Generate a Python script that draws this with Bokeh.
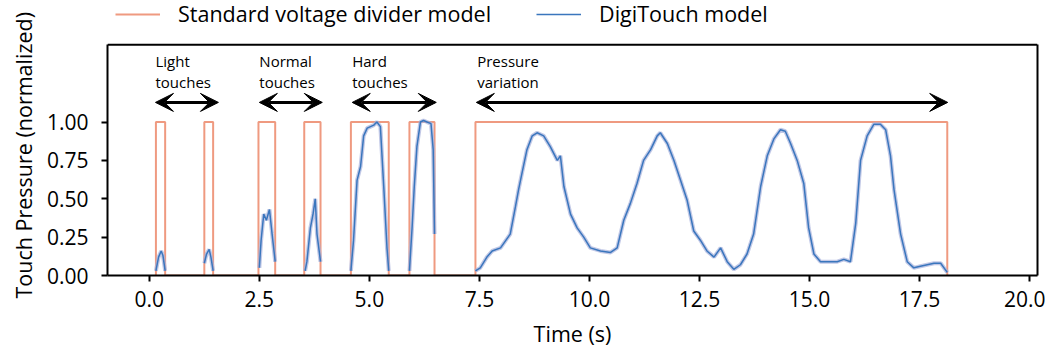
import numpy as np
from bokeh.plotting import figure
from bokeh.models import (Range1d, FixedTicker, NumeralTickFormatter, Legend, LegendItem,
                          Label, Arrow, VeeHead, LinearAxis, Span, Title)
from bokeh.embed import file_html
from bokeh.resources import INLINE

# ---------------- data ----------------
# Standard voltage divider model: on/off pulses (start, end) in seconds, level 1.0
pulse_start = [0.15, 1.25, 2.48, 3.52, 4.58, 5.91, 7.41]
pulse_end = [0.36, 1.45, 2.86, 3.89, 5.44, 6.48, 18.13]

# DigiTouch model segments (time s, normalized pressure)
light1_t = [0.15, 0.21, 0.27, 0.31, 0.36]
light1_v = [0.03, 0.12, 0.16, 0.13, 0.03]
light2_t = [1.25, 1.30, 1.36, 1.40, 1.45]
light2_v = [0.08, 0.14, 0.17, 0.12, 0.03]
normal1_t = [2.50, 2.54, 2.60, 2.66, 2.73, 2.79, 2.86]
normal1_v = [0.05, 0.23, 0.40, 0.36, 0.43, 0.27, 0.09]
normal2_t = [3.54, 3.58, 3.66, 3.72, 3.77, 3.81, 3.89]
normal2_v = [0.03, 0.09, 0.31, 0.40, 0.50, 0.27, 0.09]
hard1_t = [4.58, 4.64, 4.72, 4.80, 4.87, 4.95, 5.10, 5.17, 5.25, 5.33, 5.40, 5.44]
hard1_v = [0.03, 0.23, 0.62, 0.71, 0.91, 0.96, 0.98, 1.00, 0.97, 0.56, 0.18, 0.03]
hard2_t = [5.91, 5.97, 6.02, 6.08, 6.16, 6.23, 6.31, 6.40, 6.45, 6.48]
hard2_v = [0.03, 0.31, 0.58, 0.84, 1.00, 1.01, 1.00, 0.99, 0.82, 0.27]
press_t = [7.41, 7.52, 7.67, 7.79, 7.98, 8.20, 8.32, 8.39, 8.47, 8.58, 8.70, 8.81, 8.96,
           9.11, 9.27, 9.34, 9.42, 9.57, 9.72, 9.87, 10.02, 10.25, 10.48, 10.63, 10.78,
           10.93, 11.08, 11.23, 11.39, 11.54, 11.61, 11.77, 11.92, 12.07, 12.22, 12.37,
           12.52, 12.67, 12.83, 12.98, 13.13, 13.28, 13.43, 13.58, 13.73, 13.89, 14.04,
           14.19, 14.34, 14.45, 14.57, 14.72, 14.87, 14.98, 15.10, 15.25, 15.48, 15.63,
           15.78, 15.93, 16.05, 16.16, 16.31, 16.46, 16.61, 16.73, 16.84, 16.92, 17.07,
           17.22, 17.37, 17.52, 17.83, 17.98, 18.13]
press_v = [0.03, 0.05, 0.12, 0.16, 0.18, 0.27, 0.45, 0.56, 0.67, 0.82, 0.91, 0.93, 0.91,
           0.84, 0.75, 0.78, 0.58, 0.40, 0.31, 0.25, 0.18, 0.16, 0.15, 0.18, 0.36,
           0.47, 0.60, 0.75, 0.82, 0.91, 0.93, 0.86, 0.75, 0.62, 0.49, 0.29,
           0.23, 0.16, 0.12, 0.18, 0.09, 0.04, 0.07, 0.14, 0.27, 0.58, 0.78,
           0.89, 0.95, 0.94, 0.86, 0.75, 0.60, 0.31, 0.14, 0.09, 0.09, 0.09,
           0.105, 0.09, 0.34, 0.75, 0.91, 0.985, 0.985, 0.95, 0.78, 0.56, 0.27,
           0.09, 0.05, 0.06, 0.08, 0.08, 0.02]

segments_t = [light1_t, light2_t, normal1_t, normal2_t, hard1_t, hard2_t, press_t]
segments_v = [light1_v, light2_v, normal1_v, normal2_v, hard1_v, hard2_v, press_v]

# Annotations: (label lines, text x, arrow x start, arrow x end)
ann_line1 = ["Light", "Normal", "Hard", "Pressure"]
ann_line2 = ["touches", "touches", "touches", "variation"]
ann_text_x = [0.14, 2.50, 4.61, 7.45]
ann_arrow_x0 = [0.14, 2.50, 4.61, 7.43]
ann_arrow_x1 = [1.57, 3.93, 6.52, 18.14]

x_ticks = [0.0, 2.5, 5.0, 7.5, 10.0, 12.5, 15.0, 17.5, 20.0]
y_ticks = [0.0, 0.25, 0.5, 0.75, 1.0]

series_names = ["Standard voltage divider model", "DigiTouch model"]
x_title = "Time (s)"
y_title = "Touch Pressure (normalized)"

# ---------------- build ----------------
FONT = "Open Sans"
ORANGE = "#ef9a80"
BLUE = "#3a76bd"
BAND = "#a7b0dc"
Y_TOP = 1.504      # top edge of the axes box
Y_VIEW = 1.792     # visible range incl. legend strip
X_LO, X_HI = -0.95, 20.18

step_t, step_v = [], []
for s, e in zip(pulse_start, pulse_end):
    step_t += [s, s, e, e]
    step_v += [0.0, 1.0, 1.0, 0.0]

blue_t, blue_v = [], []
for ts, vs in zip(segments_t, segments_v):
    blue_t += list(ts) + [np.nan]
    blue_v += list(vs) + [np.nan]

p = figure(frame_width=930, frame_height=275, output_backend="svg", toolbar_location=None,
           x_range=Range1d(X_LO, X_HI), y_range=Range1d(0, Y_VIEW),
           min_border_left=107, min_border_right=8, min_border_top=0, min_border_bottom=4)
p.xgrid.visible = False
p.ygrid.visible = False
p.outline_line_color = None
p.background_fill_color = "white"
p.border_fill_color = "white"

r_or = p.line(step_t, step_v, line_color=ORANGE, line_width=2)
p.line(blue_t, blue_v, line_color=BAND, line_width=4, line_alpha=0.7)
r_bl = p.line(blue_t, blue_v, line_color=BLUE, line_width=1.5)

for ax in (p.xaxis[0], p.yaxis[0]):
    ax.axis_line_color = "black"
    ax.axis_line_width = 2
    ax.major_tick_line_color = "black"
    ax.major_tick_line_width = 2
    ax.major_tick_out = 6
    ax.major_tick_in = 0
    ax.minor_tick_line_color = None
    ax.major_label_text_font = FONT
    ax.major_label_text_font_size = "21px"
    ax.major_label_text_color = "black"
    ax.axis_label_text_font = FONT
    ax.axis_label_text_font_size = "21.5px"
    ax.axis_label_text_font_style = "normal"
    ax.axis_label_text_color = "black"

p.xaxis.ticker = FixedTicker(ticks=x_ticks)
p.xaxis.formatter = NumeralTickFormatter(format="0.0")
p.yaxis.ticker = FixedTicker(ticks=y_ticks)
p.yaxis.formatter = NumeralTickFormatter(format="0.00")
p.yaxis.bounds = (0, Y_TOP)
p.xaxis.axis_label = x_title
p.xaxis.major_label_standoff = 9
p.yaxis.major_label_standoff = 13
p.xaxis.axis_label_standoff = 9

# y-axis title in the left panel, shifted so it is centred on the axes box
p.add_layout(Title(text=y_title, align="left", offset=-23, standoff=12,
                   text_font=FONT, text_font_size="21.5px", text_font_style="normal",
                   text_color="black"), "left")

# right and top edges of the axes box
right_ax = LinearAxis(ticker=FixedTicker(ticks=[]), bounds=(0, Y_TOP), axis_line_width=2,
                      axis_line_color="black", major_label_text_font_size="0px",
                      minor_tick_line_color=None, major_tick_line_color=None)
p.add_layout(right_ax, "right")
p.add_layout(Span(location=Y_TOP, dimension="width", line_color="black", line_width=2))

for l1, l2, tx, a0, a1 in zip(ann_line1, ann_line2, ann_text_x, ann_arrow_x0, ann_arrow_x1):
    p.add_layout(Label(x=tx, y=1.395, text=l1, text_font=FONT, text_font_size="15px",
                       text_baseline="middle", text_align="left", text_color="black"))
    p.add_layout(Label(x=tx, y=1.258, text=l2, text_font=FONT, text_font_size="15px",
                       text_baseline="middle", text_align="left", text_color="black"))
    p.add_layout(Arrow(x_start=a0, y_start=1.128, x_end=a1, y_end=1.128, line_width=3,
                       line_color="black",
                       start=VeeHead(size=18, fill_color="black", line_color="black", line_width=1),
                       end=VeeHead(size=18, fill_color="black", line_color="black", line_width=1)))

legend = Legend(items=[LegendItem(label=series_names[0], renderers=[r_or]),
                       LegendItem(label=series_names[1], renderers=[r_bl])],
                orientation="horizontal", location=(8, 247),
                glyph_width=45, glyph_height=20, label_standoff=18, spacing=45,
                padding=0, margin=0, border_line_color=None, background_fill_alpha=0,
                label_text_font=FONT, label_text_font_size="21.5px", label_text_color="black")
p.add_layout(legend, "center")

open("out.html", "w").write(file_html(p, INLINE))
